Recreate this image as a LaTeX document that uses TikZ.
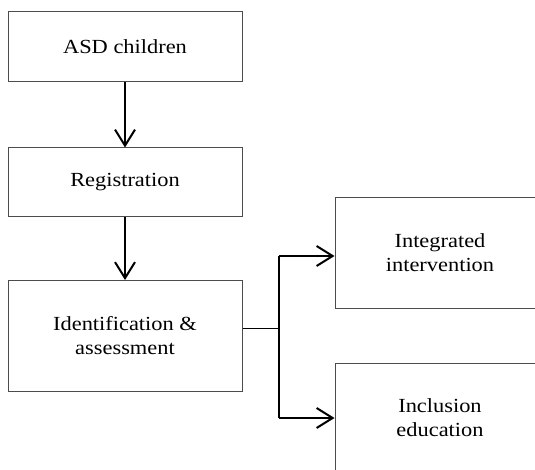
\documentclass[tikz,border=0pt]{standalone}
\usepackage{fontspec}
\setmainfont{Liberation Serif}[FakeStretch=1.12]
\usetikzlibrary{arrows.meta}
\begin{document}
\begin{tikzpicture}[x=1pt,y=-1pt,
  box/.style={draw=black!70, line width=1pt, minimum width=234pt, minimum height=70pt, inner sep=0pt, align=center, font=\fontsize{20}{24}\selectfont},
  rbox/.style={draw=black!70, line width=1pt, minimum width=210pt, minimum height=110pt, inner sep=0pt, align=center, font=\fontsize{20}{24}\selectfont},
  arr/.style={line width=2pt, -{Straight Barb[length=16pt, width=20pt, line width=2pt]}},
  thin/.style={line width=1pt}]
\useasboundingbox (0,0) rectangle (535,470);
\clip (0,0) rectangle (535,470);
\node[box] (a) at (125,47) {ASD children};
\node[box, minimum height=69pt] (b) at (125,182.5) {Registration};
\node[box, minimum height=111pt] (c) at (125,336) {Identification \&\\assessment};
\node[rbox] (d) at (440,253) {Integrated\\intervention};
\node[rbox] (e) at (440,418) {Inclusion\\education};
\coordinate (j) at (279,328);
\coordinate (jt) at (279,256);
\coordinate (jb) at (279,418);
\draw[arr] (a.south) -- (b.north);
\draw[arr] (b.south) -- (c.north);
\draw[thin] (c.east |- j) -- (j);
\draw[line width=1.5pt] (jt) -- (jb);
\draw[arr] (jt) -- (d.west |- jt);
\draw[arr] (jb) -- (e.west |- jb);
\end{tikzpicture}
\end{document}
